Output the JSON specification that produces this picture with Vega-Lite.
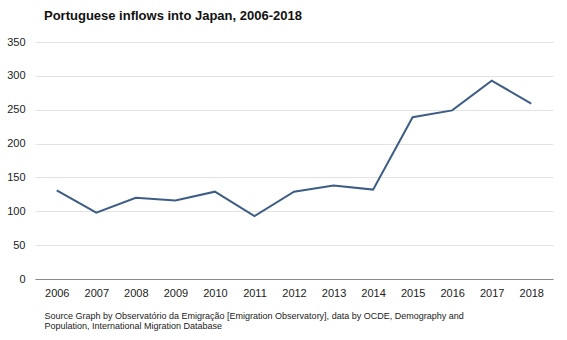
{
  "$schema": "https://vega.github.io/schema/vega-lite/v6.json",
  "width": 518,
  "height": 237,
  "autosize": "none",
  "padding": {"left": 35, "top": 42, "right": 14, "bottom": 61},
  "background": "white",
  "title": {
    "text": "Portuguese inflows into Japan, 2006-2018",
    "anchor": "start",
    "frame": "group",
    "font": "Liberation Sans",
    "fontSize": 13,
    "fontWeight": "bold",
    "color": "#111111",
    "offset": 13,
    "dx": 9
  },
  "data": {
    "values": [
      {"year": "2006", "value": 131},
      {"year": "2007", "value": 98},
      {"year": "2008", "value": 120},
      {"year": "2009", "value": 116},
      {"year": "2010", "value": 129},
      {"year": "2011", "value": 93},
      {"year": "2012", "value": 129},
      {"year": "2013", "value": 138},
      {"year": "2014", "value": 132},
      {"year": "2015", "value": 239},
      {"year": "2016", "value": 249},
      {"year": "2017", "value": 293},
      {"year": "2018", "value": 259}
    ]
  },
  "mark": {"type": "line", "color": "#3d5d87", "strokeWidth": 2},
  "encoding": {
    "x": {
      "field": "year",
      "type": "ordinal",
      "scale": {"type": "point", "padding": 0.55},
      "axis": {
        "labelAngle": 0,
        "labelFont": "Liberation Sans",
        "labelFontSize": 11,
        "labelColor": "#222222",
        "labelPadding": 8,
        "ticks": false,
        "domainColor": "#888888",
        "grid": false,
        "title": ["Source  Graph by Observatório da Emigração [Emigration Observatory], data by OCDE, Demography and", "Population, International Migration Database"],
        "titleFont": "Liberation Sans",
        "titleFontSize": 9,
        "titleFontWeight": "normal",
        "titleColor": "#222222",
        "titleAnchor": "start",
        "titleAlign": "left",
        "titleX": 9,
        "titleY": 32,
        "titleBaseline": "top",
        "titleLineHeight": 10
      }
    },
    "y": {
      "field": "value",
      "type": "quantitative",
      "scale": {"domain": [0, 350]},
      "axis": {
        "values": [0, 50, 100, 150, 200, 250, 300, 350],
        "title": null,
        "domain": false,
        "ticks": false,
        "labelFont": "Liberation Sans",
        "labelFontSize": 11,
        "labelColor": "#222222",
        "labelPadding": 10,
        "gridColor": "#e3e3e3",
        "gridWidth": 1
      }
    }
  },
  "config": {"view": {"stroke": null}}
}
